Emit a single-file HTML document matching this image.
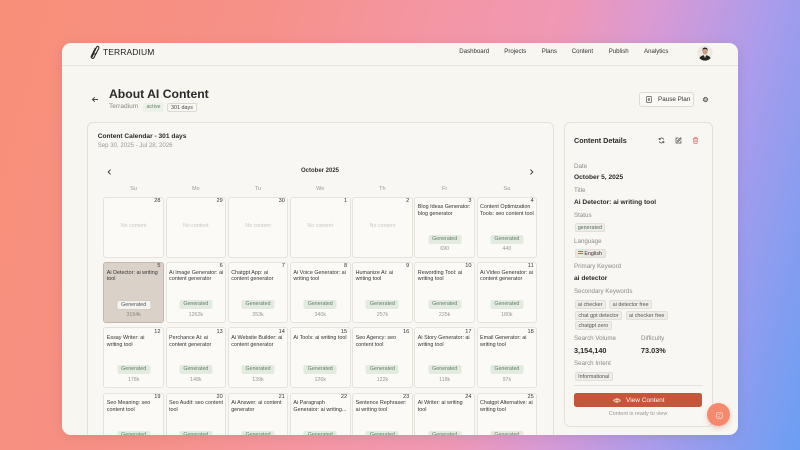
<!DOCTYPE html>
<html>
<head>
<meta charset="utf-8">
<style>
html,body{margin:0;padding:0;}
body{width:800px;height:450px;overflow:hidden;position:relative;font-family:"Liberation Sans",sans-serif;
background:linear-gradient(105deg,#f88f78 0%,#f6918a 30%,#f496a4 48%,#ef98b6 62%,#d89ad5 72%,#aa9cec 84%,#6b9ef3 100%);}
.card{position:absolute;left:62px;top:43px;width:676px;height:392px;border-radius:9px;background:#f7f6f1;overflow:hidden;box-shadow:0 2px 12px rgba(0,0,0,0.08);}
.in{position:absolute;left:-62px;top:-43px;width:800px;height:450px;}
.a{position:absolute;white-space:nowrap;}
.nav{font-size:6.1px;line-height:8px;top:48px;color:#333;}
.c{position:absolute;width:60.7px;height:61px;box-sizing:border-box;border:1px solid #e6e3dd;border-radius:3px;background:#fbfaf7;}
.n{position:absolute;right:2.5px;top:0.3px;font-size:5.6px;line-height:7px;color:#333;}
.t{position:absolute;left:2.5px;top:6.8px;font-size:5.4px;line-height:6.4px;color:#333;white-space:nowrap;}
.g{position:absolute;left:50%;transform:translateX(-50%);top:37.1px;height:9px;line-height:9px;padding:0 4px;font-size:5.3px;color:#5f7e63;background:#e3ebe1;border-radius:2px;white-space:nowrap;}
.v{position:absolute;left:0;right:0;text-align:center;top:48.8px;line-height:7px;font-size:5.3px;color:#9a968f;}
.nc{position:absolute;left:0;right:0;top:25.5px;text-align:center;font-size:5.3px;line-height:7px;color:#cbc8c2;}
.sel{background:#dad2c9;border-color:#c6b7aa;}
.sel .g{background:#f5f3ef;border:0.6px solid #d3ccc3;color:#555;line-height:8px;height:8px;}
.sel .v{color:#8d857c;}
.dn{position:absolute;top:185px;line-height:8px;font-size:5.5px;color:#9d9a93;width:60px;text-align:center;}
.lbl{position:absolute;left:574px;font-size:6.2px;line-height:8px;color:#8f8b84;white-space:nowrap;}
.val{position:absolute;left:574px;font-size:6.6px;line-height:9px;color:#2a2a2a;font-weight:bold;white-space:nowrap;}
.b{position:absolute;height:9px;line-height:9px;font-size:5.4px;color:#555;background:#efede8;border:0.6px solid #e2dfd8;border-radius:2px;box-sizing:border-box;text-align:center;white-space:nowrap;}
</style>
</head>
<body>
<div class="card"><div class="in">

<!-- header -->
<svg class="a" style="left:89px;top:45px" width="11" height="14" viewBox="0 0 11 14">
<path d="M3 12 L7.5 2.2 Q8.6 0.6 9.6 1.8 Q10.2 2.8 9.4 4 L5 12.6 Q4 13.8 2.8 13 Q1.8 12.2 2.4 11 L6.4 3" fill="none" stroke="#2a2a2a" stroke-width="1.1"/>
<path d="M4.5 9.5 L8 8" stroke="#2a2a2a" stroke-width="0.9"/>
</svg>
<div class="a" style="left:103px;top:47px;font-size:8.5px;line-height:10px;color:#222;letter-spacing:0.1px;">TERRADIUM</div>

<div class="a nav" style="left:459.3px">Dashboard</div>
<div class="a nav" style="left:504.3px">Projects</div>
<div class="a nav" style="left:541.7px">Plans</div>
<div class="a nav" style="left:571.7px">Content</div>
<div class="a nav" style="left:608.7px">Publish</div>
<div class="a nav" style="left:644px">Analytics</div>

<svg class="a" style="left:696.5px;top:45px" width="16" height="16" viewBox="0 0 16 16">
<defs><clipPath id="av"><circle cx="8" cy="8" r="7.6"/></clipPath></defs>
<g clip-path="url(#av)">
<rect width="16" height="16" fill="#ece8e2"/>
<path d="M1.5 16 Q2 10.5 8 10 Q14 10.5 14.5 16Z" fill="#2a2624"/>
<path d="M6.8 10 L8 13 L9.2 10Z" fill="#f2f0ec"/>
<ellipse cx="8" cy="6.3" rx="2.6" ry="3.2" fill="#c99d84"/>
<path d="M5.3 5.6 Q5.4 2.4 8 2.5 Q10.8 2.5 10.7 5.6 Q10 3.8 8 4 Q6 3.8 5.3 5.6Z" fill="#2b2220"/>
</g>
</svg>

<div class="a" style="left:62px;top:65px;width:676px;height:1px;background:#e5e3de;"></div>

<!-- title row -->
<svg class="a" style="left:91px;top:95.5px" width="8" height="7" viewBox="0 0 8 7">
<path d="M7 3.5 H1.5 M3.8 1.2 L1.4 3.5 L3.8 5.8" fill="none" stroke="#444" stroke-width="0.9"/>
</svg>
<div class="a" style="left:109px;top:86.8px;font-size:12.2px;line-height:14px;font-weight:bold;color:#2a2a2a;">About AI Content</div>
<div class="a" style="left:109px;top:103px;font-size:6.6px;line-height:8px;color:#8b8882;">Terradium</div>
<div class="a" style="left:143.3px;top:102.7px;width:20.4px;height:9px;line-height:9px;font-size:5.4px;color:#5f8163;background:#edf1ea;border-radius:2px;text-align:center;">active</div>
<div class="a" style="left:167.3px;top:102.5px;width:29.4px;height:9.5px;line-height:9px;font-size:5.4px;color:#444;background:#faf9f6;border:0.7px solid #dcd9d3;border-radius:2px;text-align:center;box-sizing:border-box;">301 days</div>

<div class="a" style="left:639px;top:91.7px;width:55px;height:15px;box-sizing:border-box;border:0.8px solid #dedbd5;border-radius:3px;background:#faf9f6;"></div>
<svg class="a" style="left:645.5px;top:96px" width="6" height="7" viewBox="0 0 6 7">
<rect x="0.5" y="0.5" width="5" height="6" rx="0.8" fill="none" stroke="#555" stroke-width="0.7"/>
<path d="M2.3 2 V5 M3.7 2 V5" stroke="#555" stroke-width="0.7"/>
</svg>
<div class="a" style="left:658px;top:96px;font-size:6.3px;line-height:8px;color:#333;">Pause Plan</div>
<svg class="a" style="left:701.5px;top:95.5px" width="7" height="7" viewBox="0 0 14 14">
<circle cx="7" cy="7" r="4.6" fill="none" stroke="#555" stroke-width="1.6" stroke-dasharray="2.2 1.4"/>
<circle cx="7" cy="7" r="3.6" fill="none" stroke="#555" stroke-width="1.2"/>
<circle cx="7" cy="7" r="1.5" fill="none" stroke="#555" stroke-width="1.1"/>
</svg>

<!-- calendar panel -->
<div class="a" style="left:87.3px;top:121.7px;width:466.7px;height:340px;box-sizing:border-box;border:1px solid #e4e1db;border-radius:6px;background:#f8f7f3;"></div>
<div class="a" style="left:97.7px;top:132px;font-size:6.6px;line-height:9px;font-weight:bold;color:#2a2a2a;">Content Calendar - 301 days</div>
<div class="a" style="left:97.7px;top:142px;font-size:6.1px;line-height:8px;color:#9c9890;">Sep 30, 2025 - Jul 28, 2026</div>

<svg class="a" style="left:107px;top:168.5px" width="5" height="6" viewBox="0 0 5 6"><path d="M3.6 0.6 L1.2 3 L3.6 5.4" fill="none" stroke="#333" stroke-width="0.9"/></svg>
<div class="a" style="left:270px;width:100px;text-align:center;top:167px;font-size:6px;line-height:8px;font-weight:bold;color:#333;">October 2025</div>
<svg class="a" style="left:529px;top:168.5px" width="5" height="6" viewBox="0 0 5 6"><path d="M1.4 0.6 L3.8 3 L1.4 5.4" fill="none" stroke="#333" stroke-width="0.9"/></svg>

<div class="dn" style="left:103.6px">Su</div>
<div class="dn" style="left:165.8px">Mo</div>
<div class="dn" style="left:228px">Tu</div>
<div class="dn" style="left:290.2px">We</div>
<div class="dn" style="left:352.4px">Th</div>
<div class="dn" style="left:414.6px">Fr</div>
<div class="dn" style="left:476.8px">Sa</div>

<!-- row 1 -->
<div class="c" style="left:103.3px;top:196.7px"><span class="n">28</span><div class="nc">No content</div></div>
<div class="c" style="left:165.5px;top:196.7px"><span class="n">29</span><div class="nc">No content</div></div>
<div class="c" style="left:227.7px;top:196.7px"><span class="n">30</span><div class="nc">No content</div></div>
<div class="c" style="left:289.9px;top:196.7px"><span class="n">1</span><div class="nc">No content</div></div>
<div class="c" style="left:352.1px;top:196.7px"><span class="n">2</span><div class="nc">No content</div></div>
<div class="c" style="left:414.3px;top:196.7px"><span class="n">3</span><div class="t">Blog Ideas Generator:<br>blog generator</div><div class="g">Generated</div><div class="v">690</div></div>
<div class="c" style="left:476.5px;top:196.7px"><span class="n">4</span><div class="t">Content Optimization<br>Tools: seo content tool</div><div class="g">Generated</div><div class="v">440</div></div>

<!-- row 2 -->
<div class="c sel" style="left:103.3px;top:262px"><span class="n">5</span><div class="t">Ai Detector: ai writing<br>tool</div><div class="g">Generated</div><div class="v">3154k</div></div>
<div class="c" style="left:165.5px;top:262px"><span class="n">6</span><div class="t">Ai Image Generator: ai<br>content generator</div><div class="g">Generated</div><div class="v">1262k</div></div>
<div class="c" style="left:227.7px;top:262px"><span class="n">7</span><div class="t">Chatgpt App: ai<br>content generator</div><div class="g">Generated</div><div class="v">353k</div></div>
<div class="c" style="left:289.9px;top:262px"><span class="n">8</span><div class="t">Ai Voice Generator: ai<br>writing tool</div><div class="g">Generated</div><div class="v">340k</div></div>
<div class="c" style="left:352.1px;top:262px"><span class="n">9</span><div class="t">Humanize Ai: ai<br>writing tool</div><div class="g">Generated</div><div class="v">257k</div></div>
<div class="c" style="left:414.3px;top:262px"><span class="n">10</span><div class="t">Rewording Tool: ai<br>writing tool</div><div class="g">Generated</div><div class="v">225k</div></div>
<div class="c" style="left:476.5px;top:262px"><span class="n">11</span><div class="t">Ai Video Generator: ai<br>content generator</div><div class="g">Generated</div><div class="v">180k</div></div>

<!-- row 3 -->
<div class="c" style="left:103.3px;top:327.3px"><span class="n">12</span><div class="t">Essay Writer: ai<br>writing tool</div><div class="g">Generated</div><div class="v">178k</div></div>
<div class="c" style="left:165.5px;top:327.3px"><span class="n">13</span><div class="t">Perchance Ai: ai<br>content generator</div><div class="g">Generated</div><div class="v">148k</div></div>
<div class="c" style="left:227.7px;top:327.3px"><span class="n">14</span><div class="t">Ai Website Builder: ai<br>content generator</div><div class="g">Generated</div><div class="v">139k</div></div>
<div class="c" style="left:289.9px;top:327.3px"><span class="n">15</span><div class="t">Ai Tools: ai writing tool</div><div class="g">Generated</div><div class="v">126k</div></div>
<div class="c" style="left:352.1px;top:327.3px"><span class="n">16</span><div class="t">Seo Agency: seo<br>content tool</div><div class="g">Generated</div><div class="v">122k</div></div>
<div class="c" style="left:414.3px;top:327.3px"><span class="n">17</span><div class="t">Ai Story Generator: ai<br>writing tool</div><div class="g">Generated</div><div class="v">118k</div></div>
<div class="c" style="left:476.5px;top:327.3px"><span class="n">18</span><div class="t">Email Generator: ai<br>writing tool</div><div class="g">Generated</div><div class="v">97k</div></div>

<!-- row 4 -->
<div class="c" style="left:103.3px;top:392.5px"><span class="n">19</span><div class="t">Seo Meaning: seo<br>content tool</div><div class="g">Generated</div><div class="v">95k</div></div>
<div class="c" style="left:165.5px;top:392.5px"><span class="n">20</span><div class="t">Seo Audit: seo content<br>tool</div><div class="g">Generated</div><div class="v">90k</div></div>
<div class="c" style="left:227.7px;top:392.5px"><span class="n">21</span><div class="t">Ai Answer: ai content<br>generator</div><div class="g">Generated</div><div class="v">88k</div></div>
<div class="c" style="left:289.9px;top:392.5px"><span class="n">22</span><div class="t">Ai Paragraph<br>Generator: ai writing...</div><div class="g">Generated</div><div class="v">85k</div></div>
<div class="c" style="left:352.1px;top:392.5px"><span class="n">23</span><div class="t">Sentence Rephraser:<br>ai writing tool</div><div class="g">Generated</div><div class="v">80k</div></div>
<div class="c" style="left:414.3px;top:392.5px"><span class="n">24</span><div class="t">Ai Writer: ai writing<br>tool</div><div class="g">Generated</div><div class="v">78k</div></div>
<div class="c" style="left:476.5px;top:392.5px"><span class="n">25</span><div class="t">Chatgpt Alternative: ai<br>writing tool</div><div class="g">Generated</div><div class="v">75k</div></div>

<!-- details panel -->
<div class="a" style="left:564px;top:122.3px;width:148.7px;height:305px;box-sizing:border-box;border:1px solid #e4e1db;border-radius:6px;background:#f8f7f3;"></div>
<div class="a" style="left:574px;top:135.5px;font-size:7.2px;line-height:9px;font-weight:bold;color:#2a2a2a;">Content Details</div>
<svg class="a" style="left:657.5px;top:136.5px" width="7" height="7" viewBox="0 0 14 14">
<path d="M11.5 5 A5 5 0 0 0 2.6 4.5 M2.5 9 A5 5 0 0 0 11.4 9.5" fill="none" stroke="#444" stroke-width="1.4"/>
<path d="M2.2 1.8 V4.8 H5.2 M11.8 12.2 V9.2 H8.8" fill="none" stroke="#444" stroke-width="1.4"/>
</svg>
<svg class="a" style="left:674.5px;top:136.5px" width="7" height="7" viewBox="0 0 14 14">
<path d="M7 2 H2 V12 H12 V7" fill="none" stroke="#444" stroke-width="1.4"/>
<path d="M11 1.5 L12.5 3 L7 8.5 L5 9 L5.5 7Z" fill="none" stroke="#444" stroke-width="1.3"/>
</svg>
<svg class="a" style="left:691.5px;top:136.5px" width="7" height="7" viewBox="0 0 14 14">
<path d="M1.5 3.5 H12.5 M5 3.5 V1.5 H9 V3.5 M3 3.5 L3.8 12.5 H10.2 L11 3.5 M5.8 6 V10 M8.2 6 V10" fill="none" stroke="#e0675a" stroke-width="1.3"/>
</svg>

<div class="lbl" style="top:162.7px">Date</div>
<div class="val" style="top:173.2px">October 5, 2025</div>
<div class="lbl" style="top:187.3px">Title</div>
<div class="val" style="top:197.8px">Ai Detector: ai writing tool</div>
<div class="lbl" style="top:212.3px">Status</div>
<div class="b" style="left:574.7px;top:223.2px;width:30.3px;color:#5d6b5d;background:#eceee7;">generated</div>
<div class="lbl" style="top:237.7px">Language</div>
<div class="b" style="left:574.7px;top:248.5px;width:31px;background:#ebe8e2;color:#333;"><span style="display:inline-block;width:4.5px;height:3.2px;background:linear-gradient(#d2584e 0 33%,#f2ecea 33% 66%,#d2584e 66%);vertical-align:middle;margin-right:1.5px;position:relative;top:-0.5px;"></span>English</div>
<div class="lbl" style="top:263.3px">Primary Keyword</div>
<div class="val" style="top:273.8px">ai detector</div>
<div class="lbl" style="top:288.3px">Secondary Keywords</div>
<div class="b" style="left:574.7px;top:299.5px;width:31px;">ai checker</div>
<div class="b" style="left:609px;top:299.5px;width:43.3px;">ai detector free</div>
<div class="b" style="left:574.7px;top:310.5px;width:47.6px;">chat gpt detector</div>
<div class="b" style="left:625.7px;top:310.5px;width:42px;">ai checker free</div>
<div class="b" style="left:574.7px;top:321.2px;width:37.3px;">chatgpt zero</div>
<div class="lbl" style="top:335.3px">Search Volume</div>
<div class="lbl" style="top:335.3px;left:641px">Difficulty</div>
<div class="val" style="top:346.2px;font-size:7.3px">3,154,140</div>
<div class="val" style="top:346.2px;left:641px;font-size:7.3px">73.03%</div>
<div class="lbl" style="top:360.3px">Search Intent</div>
<div class="b" style="left:574.7px;top:371.5px;width:38px;">Informational</div>
<div class="a" style="left:574px;top:385px;width:129px;height:0.8px;background:#e4e1db;"></div>

<div class="a" style="left:574.3px;top:392.7px;width:127.7px;height:14.6px;border-radius:2.5px;background:#c4573b;"></div>
<svg class="a" style="left:612.5px;top:397.5px" width="8" height="5" viewBox="0 0 16 10">
<path d="M1 5 Q8 -2 15 5 Q8 12 1 5Z" fill="none" stroke="#fbe4dc" stroke-width="1.4"/>
<circle cx="8" cy="5" r="2" fill="none" stroke="#fbe4dc" stroke-width="1.3"/>
</svg>
<div class="a" style="left:626px;top:396.5px;font-size:6.5px;line-height:8.5px;color:#fff3ee;">View Content</div>
<div class="a" style="left:588px;width:100px;text-align:center;top:410.5px;font-size:5.5px;line-height:7px;color:#9a968f;">Content is ready to view</div>

</div></div>

<!-- floating button -->
<div class="a" style="left:707px;top:403.3px;width:23px;height:23px;border-radius:50%;background:#f4896d;box-shadow:0 2px 5px rgba(200,90,70,0.3);"></div>
<svg class="a" style="left:715.5px;top:411.5px" width="7" height="7" viewBox="0 0 14 14">
<rect x="1.5" y="1.5" width="11" height="11" rx="1.5" fill="none" stroke="#fde0d6" stroke-width="1.3"/>
<path d="M4.5 5.5 H9.5 M4.5 8.5 H8" stroke="#fde0d6" stroke-width="1.2"/>
</svg>

</body>
</html>
